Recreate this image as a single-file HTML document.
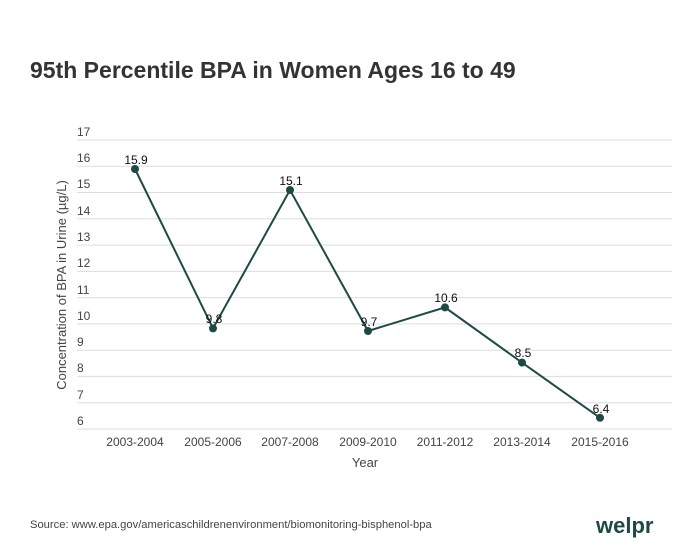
<!DOCTYPE html>
<html><head><meta charset="utf-8"><style>body{margin:0;background:#fff}svg{display:block}</style></head><body>
<svg width="700" height="557" xmlns="http://www.w3.org/2000/svg" font-family="Liberation Sans, sans-serif">
<rect width="700" height="557" fill="#fff"/>
<text x="30" y="78" font-size="23" font-weight="bold" fill="#333">95th Percentile BPA in Women Ages 16 to 49</text>
<g stroke="#ddd" stroke-width="1">
<line x1="77" x2="672" y1="140" y2="140"/><line x1="77" x2="672" y1="166.3" y2="166.3"/><line x1="77" x2="672" y1="192.5" y2="192.5"/><line x1="77" x2="672" y1="218.8" y2="218.8"/><line x1="77" x2="672" y1="245.1" y2="245.1"/><line x1="77" x2="672" y1="271.4" y2="271.4"/><line x1="77" x2="672" y1="297.6" y2="297.6"/><line x1="77" x2="672" y1="323.9" y2="323.9"/><line x1="77" x2="672" y1="350.2" y2="350.2"/><line x1="77" x2="672" y1="376.4" y2="376.4"/><line x1="77" x2="672" y1="402.7" y2="402.7"/><line x1="77" x2="672" y1="429" y2="429"/>
</g>
<g font-size="12" fill="#444">
<text x="77" y="136">17</text><text x="77" y="162">16</text><text x="77" y="188">15</text><text x="77" y="215">14</text><text x="77" y="241">13</text><text x="77" y="267">12</text><text x="77" y="294">11</text><text x="77" y="320">10</text><text x="77" y="346">9</text><text x="77" y="372">8</text><text x="77" y="399">7</text><text x="77" y="425">6</text>
</g>
<g font-size="12" fill="#444" text-anchor="middle">
<text x="135" y="446">2003-2004</text><text x="213" y="446">2005-2006</text><text x="290" y="446">2007-2008</text><text x="368" y="446">2009-2010</text><text x="445" y="446">2011-2012</text><text x="522" y="446">2013-2014</text><text x="600" y="446">2015-2016</text>
<text x="365" y="467" font-size="13">Year</text>
</g>
<text transform="translate(66,285) rotate(-90)" font-size="13" fill="#444" text-anchor="middle">Concentration of BPA in Urine (µg/L)</text>
<polyline fill="none" stroke="#1e4a46" stroke-width="2" points="135,169 213,328.4 290,190 368,331 445,307.4 522,362.6 600,417.8"/>
<g fill="#1e4a46">
<circle cx="135" cy="169" r="4"/><circle cx="213" cy="328.4" r="4"/><circle cx="290" cy="190" r="4"/><circle cx="368" cy="331" r="4"/><circle cx="445" cy="307.4" r="4"/><circle cx="522" cy="362.6" r="4"/><circle cx="600" cy="417.8" r="4"/>
</g>
<g font-size="12" fill="#111" text-anchor="middle">
<text x="136" y="164">15.9</text><text x="214" y="323">9.8</text><text x="291" y="185">15.1</text><text x="369" y="326">9.7</text><text x="446" y="302">10.6</text><text x="523" y="357">8.5</text><text x="601" y="413">6.4</text>
</g>
<text x="30" y="528" font-size="11.2" fill="#444">Source: www.epa.gov/americaschildrenenvironment/biomonitoring-bisphenol-bpa</text>
<text x="596" y="533" font-size="22" font-weight="bold" fill="#1e4a46">welpr</text>
</svg>
</body></html>
